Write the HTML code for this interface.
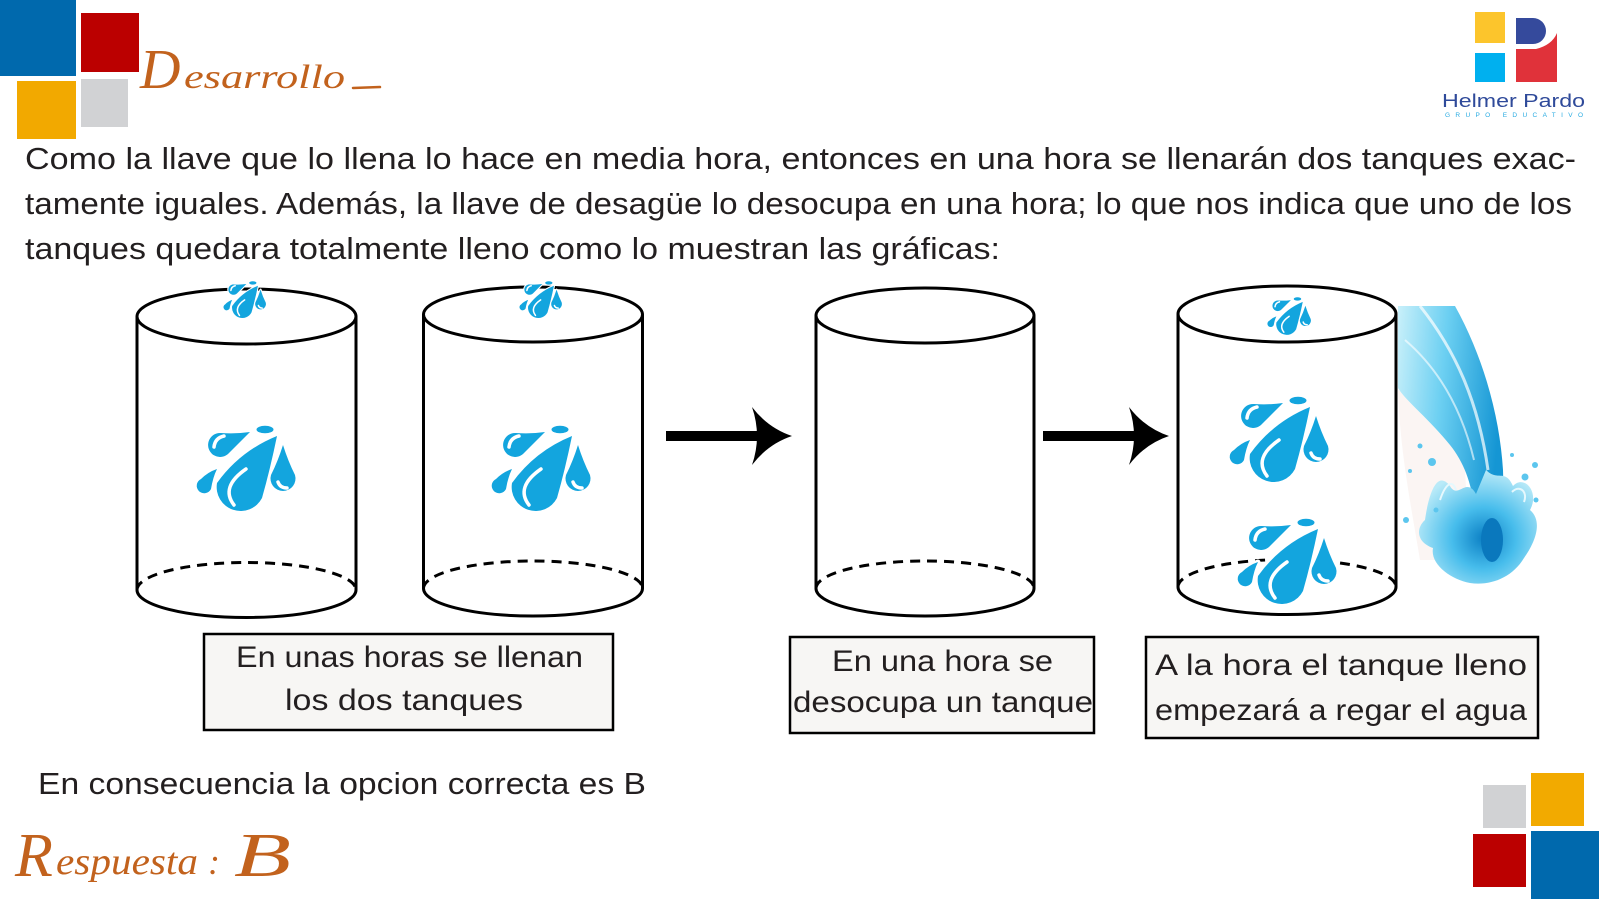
<!DOCTYPE html>
<html>
<head>
<meta charset="utf-8">
<style>
  html,body{margin:0;padding:0;background:#fff;}
  svg{display:block;}
  .t{font-family:"Liberation Sans",Arial,sans-serif;fill:#231f20;}
  .s{font-family:"Liberation Serif",serif;font-style:italic;fill:#c2621d;}
</style>
</head>
<body>
<svg width="1600" height="900" viewBox="0 0 1600 900" xmlns="http://www.w3.org/2000/svg">
  <defs>
    <symbol id="drop" viewBox="0 0 100 90" overflow="visible">
      <g fill="#13a5de" stroke="#fff" stroke-width="5" paint-order="stroke" stroke-linejoin="round">
        <path d="M79,11 Q42,26 19,58 A24,24 0 0 0 64,73 Q72,45 79,11Z"/>
        <path d="M85,20 Q80,36 73,50 A12.5,12.5 0 1 0 97,50 Q90,36 85,20Z"/>
        <path d="M52,7 Q38,9 23,8 A12,12 0 1 0 30,29 Q41,18 52,7Z"/>
        <path d="M19,44 Q10,47 3,54 A7.5,7.5 0 1 0 13,64 Q15,52 19,44Z"/>
        <ellipse cx="67" cy="4.5" rx="8.5" ry="3.8"/>
      </g>
      <g fill="none" stroke="#fff" stroke-width="3.5" stroke-linecap="round">
        <path d="M36,80 Q22,62 48,44"/>
        <path d="M80,57 Q82,63 89,63"/>
        <path d="M16,22 Q17,13 26,11"/>
      </g>
    </symbol>
    <linearGradient id="wg" x1="0" y1="0" x2="1" y2="0.2">
      <stop offset="0" stop-color="#c9f0fa"/>
      <stop offset="0.45" stop-color="#6dd0f2"/>
      <stop offset="1" stop-color="#1596d4"/>
    </linearGradient>
    <radialGradient id="sg" cx="0.55" cy="0.6" r="0.6">
      <stop offset="0" stop-color="#0b7fc4"/>
      <stop offset="0.45" stop-color="#47bdec"/>
      <stop offset="1" stop-color="#b9eaf8"/>
    </radialGradient>
  </defs>

  <!-- top-left squares -->
  <rect x="0" y="0" width="76" height="76" fill="#0069ad"/>
  <rect x="81" y="13" width="58" height="59" fill="#bb0000"/>
  <rect x="17" y="81" width="59" height="58" fill="#f2a900"/>
  <rect x="81" y="79" width="47" height="48" fill="#d1d2d4"/>

  <!-- Desarrollo title -->
  <text class="s" x="140" y="88" font-size="56">D</text>
  <text class="s" x="184" y="88" font-size="34" textLength="161" lengthAdjust="spacingAndGlyphs">esarrollo</text>
  <line x1="353" y1="88" x2="380" y2="87" stroke="#c2621d" stroke-width="2.5" stroke-linecap="round"/>

  <!-- top-right logo -->
  <rect x="1475" y="12" width="30" height="31" fill="#fcc52c"/>
  <rect x="1475" y="53" width="30" height="29" fill="#00b0ef"/>
  <path d="M1516,18 H1533 A13,13 0 0 1 1533,44 H1516 Z" fill="#354a9c"/>
  <path d="M1516,49 H1536 Q1552,45 1557,33 V82 H1516 Z" fill="#e0323a"/>
  <text x="1442" y="107" font-family="Liberation Sans, sans-serif" font-size="18.5" fill="#2f4a9a" textLength="143" lengthAdjust="spacingAndGlyphs">Helmer Pardo</text>
  <text x="1445" y="117" font-family="Liberation Sans, sans-serif" font-size="6.5" fill="#29abe2" textLength="138" lengthAdjust="spacing">GRUPO EDUCATIVO</text>

  <!-- paragraph -->
  <text class="t" x="25" y="169" font-size="31" textLength="1551" lengthAdjust="spacingAndGlyphs">Como la llave que lo llena lo hace en media hora, entonces en una hora se llenarán dos tanques exac-</text>
  <text class="t" x="25" y="214" font-size="31" textLength="1547" lengthAdjust="spacingAndGlyphs">tamente iguales. Además, la llave de desagüe lo desocupa en una hora; lo que nos indica que uno de los</text>
  <text class="t" x="25" y="259" font-size="31" textLength="975" lengthAdjust="spacingAndGlyphs">tanques quedara totalmente lleno como lo muestran las gráficas:</text>

  <!-- tanks -->
  <g fill="none" stroke="#000" stroke-width="3">
    <ellipse cx="246.5" cy="316.5" rx="109.5" ry="27.5"/>
    <line x1="137" y1="316.5" x2="137" y2="590"/>
    <line x1="356" y1="316.5" x2="356" y2="590"/>
    <path d="M137,590 A109.5,27.5 0 0 0 356,590"/>
    <path d="M137,590 A109.5,27.5 0 0 1 356,590" stroke-dasharray="10 7"/>

    <ellipse cx="533" cy="314.5" rx="109.5" ry="27.5"/>
    <line x1="423.5" y1="314.5" x2="423.5" y2="588.5"/>
    <line x1="642.5" y1="314.5" x2="642.5" y2="588.5"/>
    <path d="M423.5,588.5 A109.5,27.5 0 0 0 642.5,588.5"/>
    <path d="M423.5,588.5 A109.5,27.5 0 0 1 642.5,588.5" stroke-dasharray="10 7"/>

    <ellipse cx="925" cy="315.5" rx="109" ry="27.5"/>
    <line x1="816" y1="315.5" x2="816" y2="588.5"/>
    <line x1="1034" y1="315.5" x2="1034" y2="588.5"/>
    <path d="M816,588.5 A109,27.5 0 0 0 1034,588.5"/>
    <path d="M816,588.5 A109,27.5 0 0 1 1034,588.5" stroke-dasharray="10 7"/>

    <ellipse cx="1287" cy="314" rx="109" ry="28"/>
    <line x1="1178" y1="314" x2="1178" y2="587"/>
    <line x1="1396" y1="314" x2="1396" y2="587"/>
    <path d="M1178,587 A109,27.5 0 0 0 1396,587"/>
    <path d="M1178,587 A109,27.5 0 0 1 1396,587" stroke-dasharray="10 7"/>
  </g>

  <!-- drops -->
  <use href="#drop" x="198" y="425" width="100" height="90"/>
  <use href="#drop" x="224" y="281" width="43" height="38.7"/>
  <use href="#drop" x="493" y="425" width="100" height="90"/>
  <use href="#drop" x="520" y="281" width="43" height="38.7"/>
  <use href="#drop" x="1268" y="297" width="44" height="39.6"/>
  <use href="#drop" x="1231" y="396" width="100" height="90"/>
  <use href="#drop" x="1239" y="518" width="100" height="90"/>

  <!-- arrows -->
  <rect x="666" y="431" width="94" height="10" fill="#000"/>
  <path d="M752,407 Q768,428 792,436 Q768,444 752,465 Q762,436 752,407 Z" fill="#000"/>
  <rect x="1043" y="431" width="94" height="10" fill="#000"/>
  <path d="M1129,407 Q1145,428 1169,436 Q1145,444 1129,465 Q1139,436 1129,407 Z" fill="#000"/>

  <!-- water stream & splash -->
  <path d="M1398,390 C1420,400 1450,430 1465,470 L1470,560 L1420,560 C1410,500 1400,450 1398,390 Z" fill="#fbf5f3"/>
  <path d="M1398,306 L1455,306 C1485,360 1500,420 1503,470 L1505,545 L1478,548 C1476,500 1470,470 1450,445 C1430,420 1405,400 1398,388 Z" fill="url(#wg)"/>
  <path d="M1420,306 C1455,350 1478,400 1488,470" fill="none" stroke="#fff" stroke-width="3" opacity="0.7"/>
  <path d="M1405,340 C1440,370 1462,410 1474,460" fill="none" stroke="#fff" stroke-width="2" opacity="0.6"/>
  <path d="M1425,520 C1428,498 1436,468 1450,486 C1458,500 1466,476 1476,494 L1486,470 C1498,482 1505,468 1513,486 C1524,474 1540,492 1530,510 C1544,522 1534,544 1524,558 C1512,578 1490,586 1470,583 C1450,579 1430,564 1433,548 C1416,542 1416,528 1425,520 Z" fill="url(#sg)"/>
  <path d="M1440,500 C1445,485 1452,478 1456,490" fill="none" stroke="#e6f8fd" stroke-width="2"/>
  <path d="M1512,492 C1520,484 1528,492 1524,502" fill="none" stroke="#e6f8fd" stroke-width="2"/>
  <ellipse cx="1492" cy="540" rx="11" ry="22" fill="#0a78bd"/>
  <g fill="#5cc6ee">
    <circle cx="1420" cy="446" r="2.5"/>
    <circle cx="1432" cy="462" r="4"/>
    <circle cx="1410" cy="471" r="2"/>
    <circle cx="1406" cy="520" r="3"/>
    <circle cx="1535" cy="465" r="3"/>
    <circle cx="1536" cy="500" r="2.5"/>
    <circle cx="1525" cy="477" r="3.5"/>
    <circle cx="1436" cy="510" r="2.5"/>
    <circle cx="1512" cy="455" r="2"/>
  </g>

  <!-- text boxes -->
  <rect x="204" y="634" width="409" height="96" fill="#f7f6f4" stroke="#000" stroke-width="2.5"/>
  <text class="t" x="236" y="667" font-size="30" textLength="347" lengthAdjust="spacingAndGlyphs">En unas horas se llenan</text>
  <text class="t" x="285" y="710" font-size="30" textLength="238" lengthAdjust="spacingAndGlyphs">los dos tanques</text>

  <rect x="790" y="637" width="304" height="96" fill="#f7f6f4" stroke="#000" stroke-width="2.5"/>
  <text class="t" x="832" y="671" font-size="30" textLength="221" lengthAdjust="spacingAndGlyphs">En una hora se</text>
  <text class="t" x="793" y="712" font-size="30" textLength="300" lengthAdjust="spacingAndGlyphs">desocupa un tanque</text>

  <rect x="1146" y="637" width="392" height="101" fill="#f7f6f4" stroke="#000" stroke-width="2.5"/>
  <text class="t" x="1155" y="675" font-size="30" textLength="372" lengthAdjust="spacingAndGlyphs">A la hora el tanque lleno</text>
  <text class="t" x="1155" y="720" font-size="30" textLength="372" lengthAdjust="spacingAndGlyphs">empezará a regar el agua</text>

  <!-- conclusion -->
  <text class="t" x="38" y="794" font-size="31" textLength="608" lengthAdjust="spacingAndGlyphs">En consecuencia la opcion correcta es B</text>

  <!-- Respuesta -->
  <text class="s" x="15" y="876" font-size="62">R</text>
  <text class="s" x="56" y="874" font-size="38" textLength="142" lengthAdjust="spacingAndGlyphs">espuesta</text>
  <text class="s" x="208" y="874" font-size="36">:</text>
  <text class="s" x="234" y="876" font-size="62" textLength="57" lengthAdjust="spacingAndGlyphs">B</text>

  <!-- bottom-right squares -->
  <rect x="1483" y="785" width="43" height="43" fill="#d1d2d4"/>
  <rect x="1531" y="773" width="53" height="53" fill="#f2aa00"/>
  <rect x="1473" y="834" width="53" height="53" fill="#bb0000"/>
  <rect x="1531" y="831" width="68" height="68" fill="#0069ad"/>
</svg>
</body>
</html>
